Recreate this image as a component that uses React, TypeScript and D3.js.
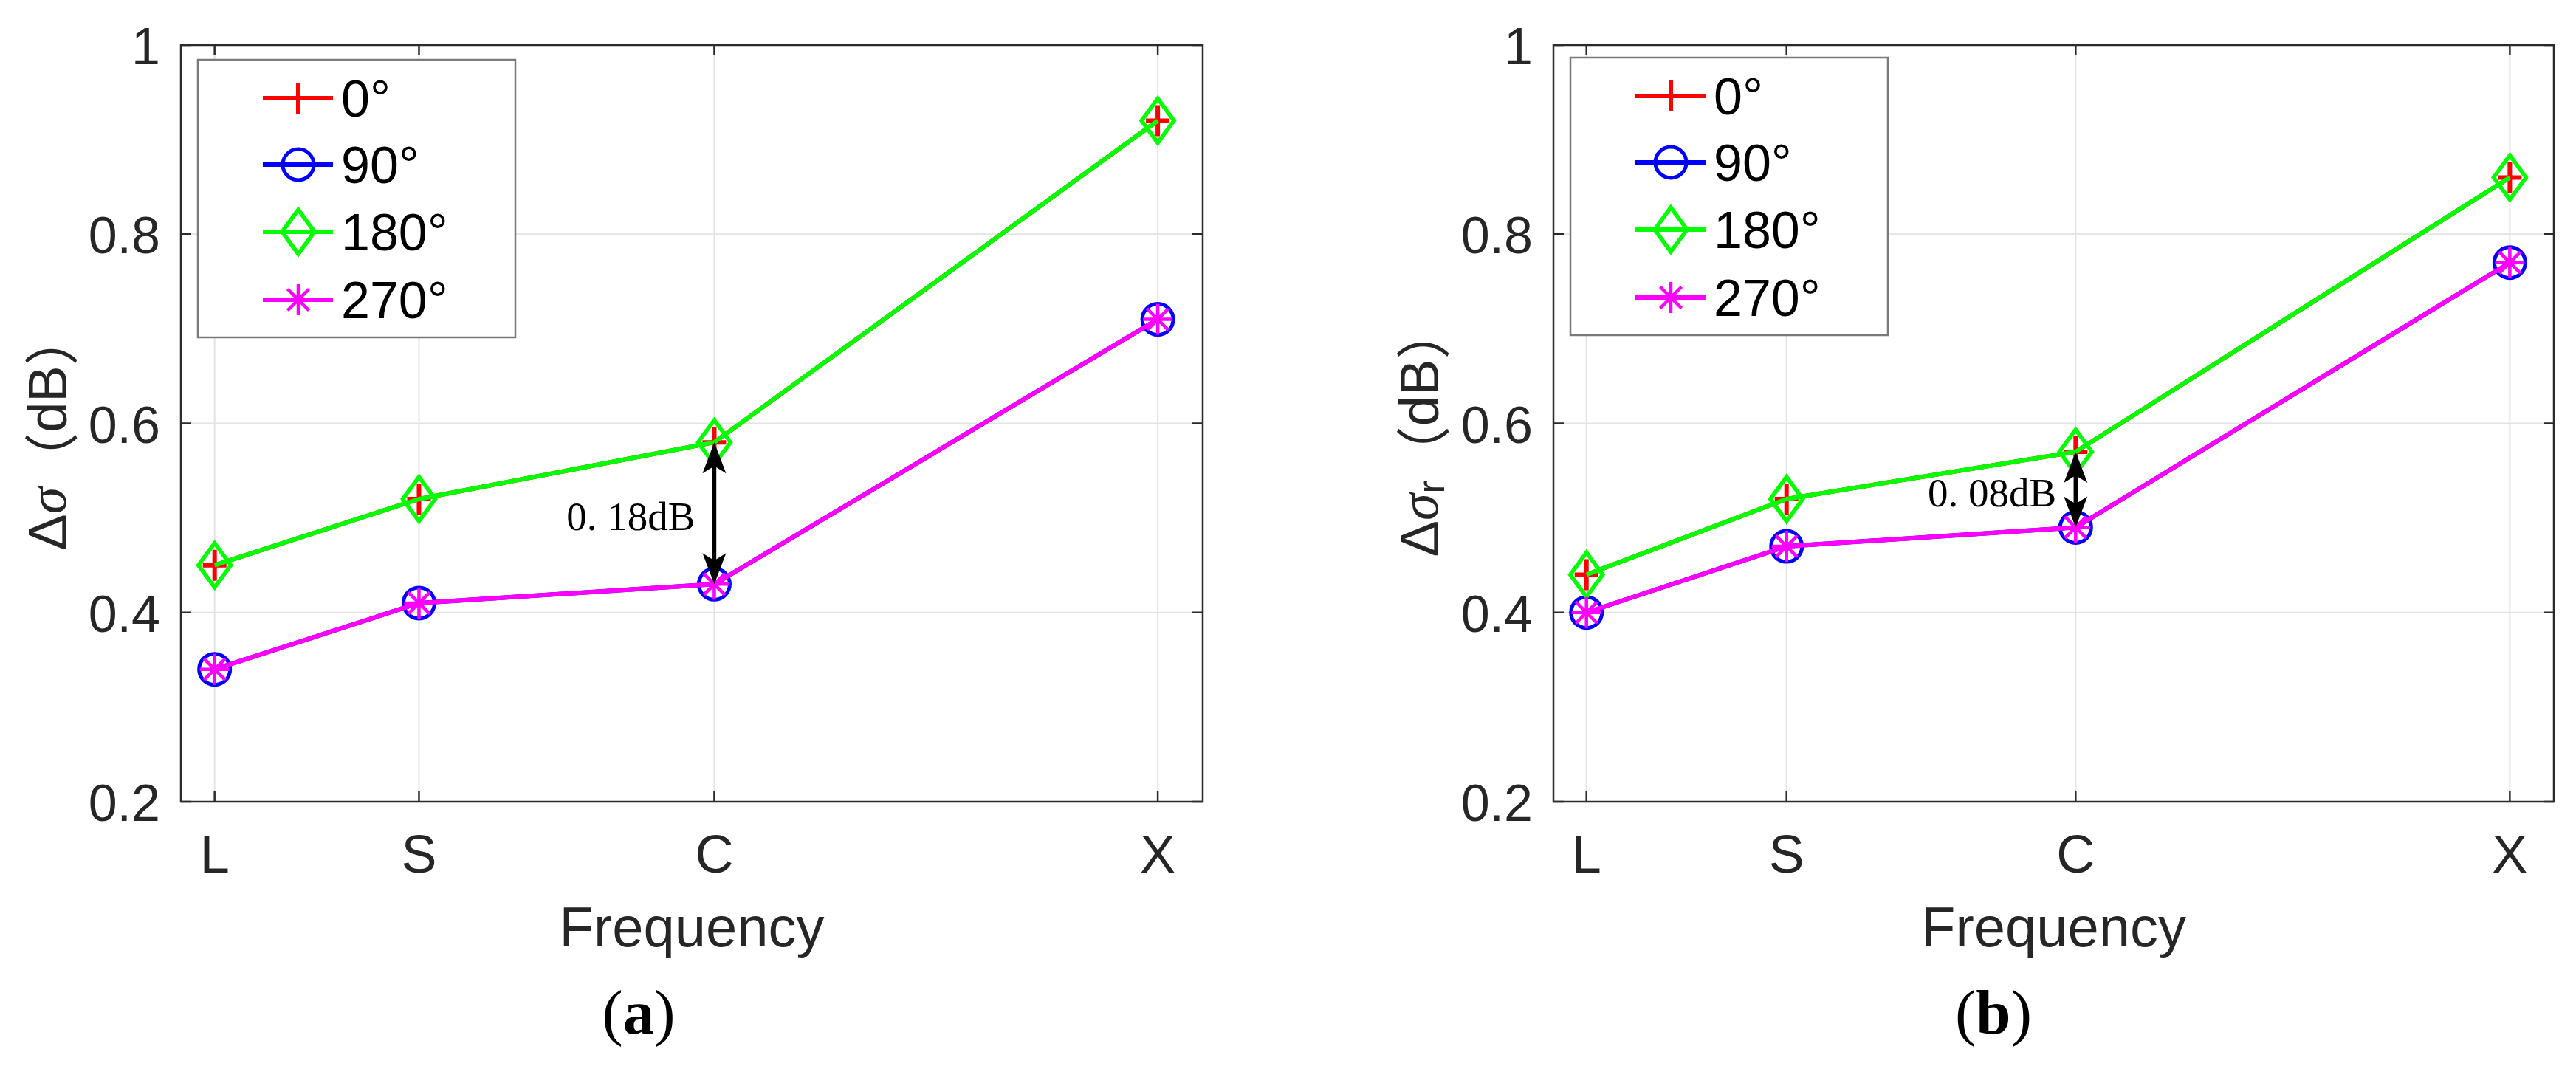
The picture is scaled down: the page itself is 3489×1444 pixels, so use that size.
import React from "react";
import * as d3 from "d3";

const width = 3489;
const height = 1444;
const plotTop = 61;
const plotBottom = 1086;

// frequency bands and their (approximate) centre positions on the x axis
const bands = ["L", "S", "C", "X"];
const bandPos = [1.33, 3.33, 6.22, 10.56];
const xDomain = [1, 11];
const yTicks = [0.2, 0.4, 0.6, 0.8, 1];
const yTickLabels = ["0.2", "0.4", "0.6", "0.8", "1"];

const angleLabels = ["0°", "90°", "180°", "270°"];
const seriesColors = ["#ff0000", "#0000ff", "#00ff00", "#ff00ff"];
const seriesMarkers = ["plus", "circle", "diamond", "asterisk"];

// panel (a): Δσ
const a0 = [0.45, 0.52, 0.58, 0.92];
const a90 = [0.34, 0.41, 0.43, 0.71];
const a180 = [0.45, 0.52, 0.58, 0.92];
const a270 = [0.34, 0.41, 0.43, 0.71];

// panel (b): Δσr
const b0 = [0.44, 0.52, 0.57, 0.86];
const b90 = [0.4, 0.47, 0.49, 0.77];
const b180 = [0.44, 0.52, 0.57, 0.86];
const b270 = [0.4, 0.47, 0.49, 0.77];

const panels = [
  {
    left: 245, right: 1629, legendTop: 81, series: [a0, a90, a180, a270],
    sub: "", note: "0. 18dB", noteBand: 2, caption: "a", captionX: 865, labelX: 64,
  },
  {
    left: 2104, right: 3459, legendTop: 78, series: [b0, b90, b180, b270],
    sub: "r", note: "0. 08dB", noteBand: 2, caption: "b", captionX: 2700, labelX: 1922,
  },
];

const sans = "Arial, 'Liberation Sans', Helvetica, sans-serif";
const serif = "'Times New Roman', 'Liberation Serif', serif";

function Marker({ type, x, y, color }) {
  if (type === "plus")
    return <path d={`M${x - 16},${y}H${x + 16}M${x},${y - 21}V${y + 21}`} stroke={color} strokeWidth={6} fill="none" />;
  if (type === "circle")
    return <circle cx={x} cy={y} r={21} stroke={color} strokeWidth={5} fill="none" />;
  if (type === "diamond")
    return <path d={`M${x},${y - 30}L${x + 22},${y}L${x},${y + 30}L${x - 22},${y}Z`} stroke={color} strokeWidth={5.5} fill="none" />;
  const d = 14.5;
  return (
    <path
      d={`M${x},${y - 21}V${y + 21}M${x - 20},${y}H${x + 20}M${x - d},${y - d}L${x + d},${y + d}M${x - d},${y + d}L${x + d},${y - d}`}
      stroke={color} strokeWidth={4.5} fill="none"
    />
  );
}

function Panel({ p }) {
  const x = d3.scaleLinear().domain(xDomain).range([p.left, p.right]);
  const y = d3.scaleLinear().domain([0.2, 1]).range([plotBottom, plotTop]);
  const line = d3.line<number>().x((_, i) => x(bandPos[i])).y((v) => y(v));
  const tick = 14;
  const axisColor = "#2b2b2b";

  const lx = p.left + 23;
  const lw = 430;
  const lh = 376;
  const rowY = [52, 142, 233, 325];

  const nx = x(bandPos[p.noteBand]);
  const yUp = y(p.series[2][p.noteBand]);
  const yLo = y(p.series[3][p.noteBand]);
  const head = "M0,0L16,42L0,32L-16,42Z";

  const mid = (plotTop + plotBottom) / 2;

  return (
    <g>
      {/* grid */}
      {yTicks.map((t) => (
        <line key={"gy" + t} x1={p.left} x2={p.right} y1={y(t)} y2={y(t)} stroke="#e3e3e3" strokeWidth={2} />
      ))}
      {bandPos.map((b) => (
        <line key={"gx" + b} x1={x(b)} x2={x(b)} y1={plotTop} y2={plotBottom} stroke="#e3e3e3" strokeWidth={2} />
      ))}

      {/* axes box and ticks */}
      <rect x={p.left} y={plotTop} width={p.right - p.left} height={plotBottom - plotTop} fill="none" stroke={axisColor} strokeWidth={2.5} />
      {yTicks.map((t) => (
        <g key={"ty" + t}>
          <line x1={p.left} x2={p.left + tick} y1={y(t)} y2={y(t)} stroke={axisColor} strokeWidth={2.5} />
          <line x1={p.right} x2={p.right - tick} y1={y(t)} y2={y(t)} stroke={axisColor} strokeWidth={2.5} />
        </g>
      ))}
      {bandPos.map((b) => (
        <g key={"tx" + b}>
          <line x1={x(b)} x2={x(b)} y1={plotBottom} y2={plotBottom - tick} stroke={axisColor} strokeWidth={2.5} />
          <line x1={x(b)} x2={x(b)} y1={plotTop} y2={plotTop + tick} stroke={axisColor} strokeWidth={2.5} />
        </g>
      ))}

      {/* tick labels */}
      {yTicks.map((t, i) => (
        <text key={"ly" + t} x={p.left - 28} y={y(t) + 26} textAnchor="end" fontFamily={sans} fontSize={70} fill="#262626">
          {yTickLabels[i]}
        </text>
      ))}
      {bands.map((b, i) => (
        <text key={"lx" + b} x={x(bandPos[i])} y={1182} textAnchor="middle" fontFamily={sans} fontSize={72} fill="#262626">
          {b}
        </text>
      ))}
      <text x={(p.left + p.right) / 2} y={1282} textAnchor="middle" fontFamily={sans} fontSize={76} fill="#262626">
        Frequency
      </text>
      <text
        transform={`translate(${p.labelX},${mid + 10}) rotate(-90)`}
        textAnchor="middle" dominantBaseline="central" fontFamily={sans} fontSize={74} fill="#262626"
      >
        <tspan>Δ</tspan>
        <tspan fontStyle="italic" fontFamily={serif}>σ</tspan>
        {p.sub ? <tspan fontSize={52} dy={16}>{p.sub}</tspan> : null}
        <tspan dy={p.sub ? -16 : 0} fontFamily="'Noto Sans CJK SC', sans-serif">（</tspan>
        <tspan>dB</tspan>
        <tspan fontFamily="'Noto Sans CJK SC', sans-serif">）</tspan>
      </text>

      {/* series */}
      {p.series.map((vals, si) => (
        <g key={"s" + si}>
          <path d={line(vals) || ""} fill="none" stroke={seriesColors[si]} strokeWidth={6} strokeLinejoin="round" />
          {vals.map((v, i) => (
            <Marker key={i} type={seriesMarkers[si]} x={x(bandPos[i])} y={y(v)} color={seriesColors[si]} />
          ))}
        </g>
      ))}

      {/* difference annotation */}
      <line x1={nx} x2={nx} y1={yUp + 30} y2={yLo - 30} stroke="#000" strokeWidth={5.5} />
      <path d={head} transform={`translate(${nx},${yUp})`} fill="#000" />
      <path d={head} transform={`translate(${nx},${yLo}) rotate(180)`} fill="#000" />
      <text x={nx - 26} y={(yUp + yLo) / 2 + 23} textAnchor="end" fontFamily={serif} fontSize={55} fill="#000">
        {p.note}
      </text>

      {/* legend */}
      <rect x={lx} y={p.legendTop} width={lw} height={lh} fill="#fff" stroke="#7a7a7a" strokeWidth={2.5} />
      {angleLabels.map((lab, i) => {
        const ry = p.legendTop + rowY[i];
        return (
          <g key={"lg" + i}>
            <line x1={lx + 88} x2={lx + 183} y1={ry} y2={ry} stroke={seriesColors[i]} strokeWidth={6} />
            <Marker type={seriesMarkers[i]} x={lx + 136} y={ry} color={seriesColors[i]} />
            <text x={lx + 194} y={ry + 25} fontFamily={sans} fontSize={70} fill="#000">
              {lab}
            </text>
          </g>
        );
      })}

      {/* caption */}
      <text x={p.captionX} y={1400} textAnchor="middle" fontFamily={serif} fontSize={85} fill="#000">
        (<tspan fontWeight="bold">{p.caption}</tspan>)
      </text>
    </g>
  );
}

export default function App() {
  return (
    <svg
      width={width}
      height={height}
      viewBox={`0 0 ${width} ${height}`}
      style={{ position: "absolute", left: 0, top: 0, background: "#fff" }}
    >
      <rect width={width} height={height} fill="#fff" />
      {panels.map((p, i) => (
        <Panel key={i} p={p} />
      ))}
    </svg>
  );
}
